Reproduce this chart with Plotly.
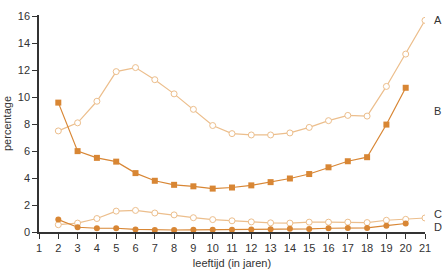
import plotly.graph_objects as go

# leeftijd (in jaren)
ages = list(range(2, 22))
ages_b = list(range(2, 21))
ages_d = list(range(2, 21))

a_vals = [7.5, 8.1, 9.7, 11.9, 12.2, 11.3, 10.25, 9.1, 7.9, 7.3, 7.2, 7.2, 7.35,
          7.76, 8.26, 8.65, 8.6, 10.8, 13.2, 15.7]
b_vals = [9.6, 6.0, 5.5, 5.22, 4.37, 3.8, 3.5, 3.39, 3.22, 3.3, 3.46, 3.7, 3.97,
          4.3, 4.8, 5.25, 5.55, 7.97, 10.7]
c_vals = [0.54, 0.66, 1.0, 1.55, 1.6, 1.41, 1.27, 1.06, 0.92, 0.83, 0.75, 0.68, 0.66,
          0.73, 0.73, 0.73, 0.7, 0.87, 0.94, 1.04]
d_vals = [0.92, 0.35, 0.28, 0.28, 0.19, 0.15, 0.15, 0.16, 0.17, 0.17, 0.18, 0.2, 0.25,
          0.23, 0.28, 0.3, 0.3, 0.47, 0.63]

series_labels = ['A', 'B', 'C', 'D']
label_y = [15.7, 8.96, 1.3, 0.34]

dark = 'rgb(216,134,52)'
light = 'rgb(236,190,140)'
font = 'Liberation Sans, Arial, sans-serif'

fig = go.Figure()

fig.add_trace(go.Scatter(x=ages, y=a_vals, mode='lines+markers',
                         line=dict(color=light, width=1.2),
                         marker=dict(symbol='circle', size=6, color='white',
                                     line=dict(color=light, width=1))))
fig.add_trace(go.Scatter(x=ages, y=c_vals, mode='lines+markers',
                         line=dict(color=light, width=1.2),
                         marker=dict(symbol='circle', size=6, color='white',
                                     line=dict(color=light, width=1))))
fig.add_trace(go.Scatter(x=ages_b, y=b_vals, mode='lines+markers',
                         line=dict(color=dark, width=1.2),
                         marker=dict(symbol='square', size=6, color=dark)))
fig.add_trace(go.Scatter(x=ages_d, y=d_vals, mode='lines+markers',
                         line=dict(color=dark, width=1.2),
                         marker=dict(symbol='circle', size=6, color=dark)))

for lbl, yv in zip(series_labels, label_y):
    fig.add_annotation(x=1.017, xref='paper', y=yv, yref='y', text=lbl,
                       showarrow=False, xanchor='left', yanchor='middle',
                       font=dict(size=11, color='#333', family=font))

fig.update_layout(
    width=442, height=269,
    margin=dict(l=39, r=17, t=15, b=37),
    paper_bgcolor='white',
    plot_bgcolor='white',
    showlegend=False,
    font=dict(family=font, size=11, color='#333'),
    xaxis=dict(
        range=[1, 21], tickmode='linear', tick0=1, dtick=1,
        showgrid=False, zeroline=False, automargin=False,
        showline=True, linecolor='#333', linewidth=1.5,
        ticks='outside', ticklen=5, tickcolor='#333',
        title=dict(text='leeftijd (in jaren)', standoff=6, font=dict(size=11)),
    ),
    yaxis=dict(
        range=[0, 16.1], tickmode='linear', tick0=0, dtick=2,
        showgrid=False, zeroline=False, automargin=False,
        showline=True, linecolor='#333', linewidth=1.5,
        ticks='outside', ticklen=5, tickcolor='#333',
        title=dict(text='percentage', standoff=4, font=dict(size=11)),
    ),
)

# the page body has a default 8px margin; remove it so the chart fills the window
fig.write_html("out.html", config={'displayModeBar': False},
               post_script="document.body.style.margin='0';")
